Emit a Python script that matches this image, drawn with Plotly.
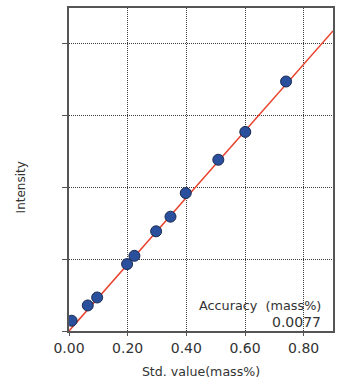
import plotly.graph_objects as go

std_value = [0.009, 0.064, 0.096, 0.198, 0.223, 0.297, 0.346, 0.398, 0.509, 0.601, 0.740]
intensity = [0.143, 0.356, 0.467, 0.932, 1.048, 1.389, 1.593, 1.921, 2.386, 2.774, 3.476]
line_x = [0.0, 0.9]
line_y = [0.0, 4.18]
x_ticks = [0.0, 0.2, 0.4, 0.6, 0.8]
x_tick_labels = ["0.00", "0.20", "0.40", "0.60", "0.80"]
y_ticks = [0, 1, 2, 3, 4]

font = "DejaVu Sans"
grid = "#3a3a3a"
txt = "#333333"

fig = go.Figure()
fig.add_trace(go.Scatter(x=line_x, y=line_y, mode="lines",
                         line=dict(color="#e8402a", width=1.5), hoverinfo="skip"))
fig.add_trace(go.Scatter(x=std_value, y=intensity, mode="markers",
                         marker=dict(size=11, color="#2a4f9c",
                                     line=dict(color="#1a2a50", width=1))))

fig.update_layout(
    width=344, height=388,
    margin=dict(l=69, r=11, t=6, b=57),
    paper_bgcolor="white", plot_bgcolor="white",
    showlegend=False,
    font=dict(family=font, color=txt, size=13),
    xaxis=dict(range=[0, 0.9], tickvals=x_ticks, ticktext=x_tick_labels,
               showgrid=True, gridcolor=grid, griddash="1px,1px", gridwidth=1,
               showline=True, linecolor="#555555", linewidth=2, mirror=True,
               ticks="outside", ticklen=3, tickcolor="#555555", zeroline=False,
               tickfont=dict(family=font, size=14, color=txt),
               title=dict(text="Std. value(mass%)", standoff=12,
                          font=dict(family=font, size=12.6, color=txt))),
    yaxis=dict(range=[0, 4.5], tickvals=y_ticks, showticklabels=False,
               showgrid=True, gridcolor=grid, griddash="1px,1px", gridwidth=1,
               showline=True, linecolor="#555555", linewidth=2, mirror=True,
               ticks="outside", ticklen=5, tickcolor="#555555", zeroline=False),
    annotations=[
        dict(text="Intensity", xref="paper", yref="paper",
             x=-(69 - 12) / 264, y=1 - (186.5 - 6) / 325,
             showarrow=False, textangle=-90,
             font=dict(family=font, size=12, color=txt)),
        dict(text="Accuracy  (mass%)", x=0.9, y=(331 - 305) / 72.2, xref="x", yref="y",
             xanchor="right", xshift=-10, showarrow=False,
             font=dict(family=font, size=12.8, color=txt)),
        dict(text="0.0077", x=0.9, y=(331 - 322.3) / 72.2, xref="x", yref="y",
             xanchor="right", xshift=-10, showarrow=False,
             font=dict(family=font, size=14, color=txt)),
    ],
)
fig.write_html("out.html")
